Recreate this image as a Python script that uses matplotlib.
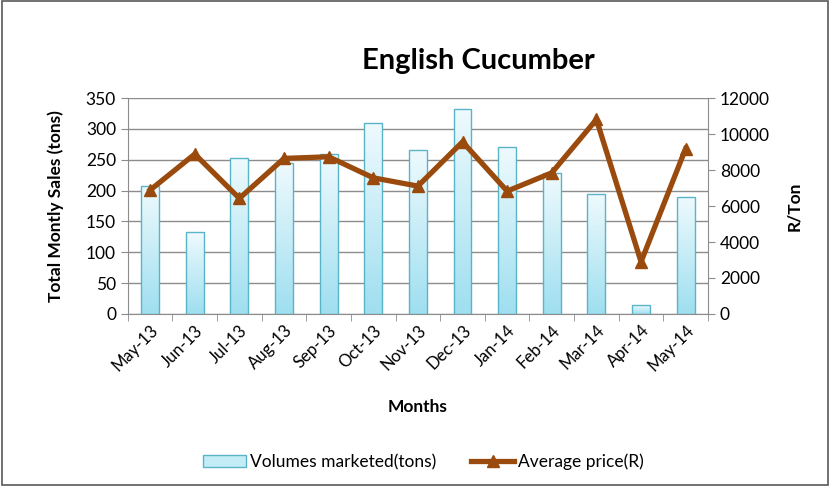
import matplotlib.pyplot as plt
import numpy as np
from matplotlib.lines import Line2D
from matplotlib.patches import Patch, Rectangle

months = ["May-13", "Jun-13", "Jul-13", "Aug-13", "Sep-13", "Oct-13", "Nov-13",
          "Dec-13", "Jan-14", "Feb-14", "Mar-14", "Apr-14", "May-14"]
volumes = [207, 133, 253, 245, 260, 309, 266, 332, 270, 228, 194, 14, 190]
price = [6890, 8890, 6430, 8650, 8740, 7570, 7110, 9570, 6830, 7850, 10815, 2900, 9200]

plt.rcParams['font.family'] = ['Lato', 'DejaVu Sans']

fig = plt.figure(figsize=(8.3, 4.86), dpi=100)
ax = fig.add_axes([0.154, 0.354, 0.699, 0.444])
ax2 = ax.twinx()

x = np.arange(len(months))
bars = ax.bar(x, volumes, width=0.4, facecolor='none', edgecolor='#5ab4c8',
              linewidth=1.0, zorder=3)

# vertical gradient fill for each bar
grad = np.linspace(0, 1, 100).reshape(-1, 1)
cmap = plt.matplotlib.colors.LinearSegmentedColormap.from_list(
    'cuc', ['#9fdff0', '#eefafd'])
for b in bars:
    im = ax.imshow(grad, cmap=cmap, aspect='auto', origin='lower',
                   extent=[b.get_x(), b.get_x() + b.get_width(), 0, b.get_height()],
                   zorder=2)
    im.set_clip_path(b)

ax.set_xlim(-0.5, len(months) - 0.5)
ax.set_ylim(0, 350)
ax.set_yticks(range(0, 351, 50))
ax.yaxis.grid(True, color='#8c8c8c', linewidth=1.0, zorder=0)
ax.set_axisbelow(True)
ax.set_xticks(x)
ax.set_xticklabels(months, rotation=45, ha='right', rotation_mode='anchor', fontsize=12)
ax.set_xticks(np.arange(-0.5, len(months), 1), minor=True)
ax.tick_params(axis='x', which='major', length=0, pad=6)
ax.tick_params(axis='x', which='minor', length=5, color='#8c8c8c')
ax.tick_params(axis='y', labelsize=12.5, length=5, color='#8c8c8c')
ax.set_ylabel("Total Montly Sales (tons)", fontsize=12.5, fontweight='bold', labelpad=16)
ax.set_xlabel("Months", fontsize=12.5, fontweight='bold', labelpad=18)

ax2.plot(x, price, color='#9a4a0c', linewidth=3.8, marker='^', markersize=9,
         zorder=5)
ax2.set_ylim(0, 12000)
ax2.set_yticks(range(0, 12001, 2000))
ax2.tick_params(axis='y', labelsize=12.5, length=5, color='#8c8c8c')
ax2.set_ylabel("R/Ton", fontsize=12.5, fontweight='bold', labelpad=12)
ax2.set_zorder(ax.get_zorder() + 1)
ax2.patch.set_visible(False)

for a in (ax, ax2):
    a.spines['top'].set_visible(False)
    for s in ('left', 'right', 'bottom'):
        a.spines[s].set_color('#8c8c8c')
ax.spines['right'].set_visible(False)
ax2.spines['left'].set_visible(False)
ax2.spines['bottom'].set_visible(False)

fig.text(0.576, 0.875, "English Cucumber", ha='center', va='center',
         fontsize=21, fontweight='bold')

handles = [Patch(facecolor='#c4ecf7', edgecolor='#5ab4c8', label='Volumes marketed(tons)'),
           Line2D([], [], color='#9a4a0c', linewidth=3.8, marker='^', markersize=9,
                  label='Average price(R)')]
fig.legend(handles=handles, loc='center', bbox_to_anchor=(0.51, 0.05), ncol=2,
           frameon=False, fontsize=12.5, handlelength=2.5, columnspacing=2.0,
           handletextpad=0.2)

fig.patches.append(Rectangle((0.002, 0.003), 0.996, 0.994, transform=fig.transFigure,
                             fill=False, edgecolor='#595959', linewidth=1.2))

fig.savefig("out.png", dpi=100)
